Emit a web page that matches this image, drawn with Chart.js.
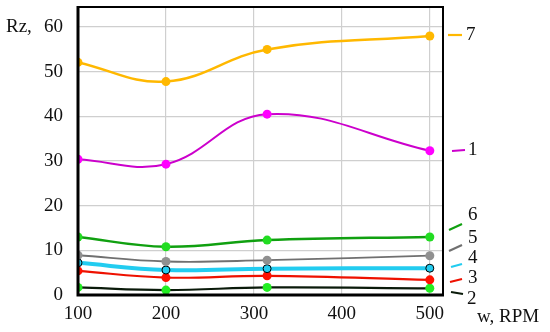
<!DOCTYPE html>
<html><head><meta charset="utf-8">
<script src="https://cdn.jsdelivr.net/npm/chart.js@4/dist/chart.umd.min.js"></script>
<style>html,body{margin:0;padding:0;background:#fff}#wrap{width:550px;height:332px}</style>
</head><body><div id="wrap"><canvas id="c" width="550" height="332"></canvas></div>
<script>
const speeds = [100, 200, 315, 500];
const s7 = [52.1, 47.8, 55.0, 58.0];
const s1 = [30.4, 29.3, 40.5, 32.3];
const s6 = [13.0, 10.8, 12.3, 13.0];
const s5 = [8.9, 7.5, 7.8, 8.8];
const s4 = [7.2, 5.6, 5.9, 6.0];
const s3 = [5.4, 3.9, 4.3, 3.4];
const s2 = [1.7, 1.1, 1.7, 1.5];
const seriesNames = ['7', '1', '6', '5', '4', '3', '2'];
const xTicks = [100, 200, 300, 400, 500];
const yTicks = [0, 10, 20, 30, 40, 50, 60];

const pts = a => a.map((v, i) => ({x: speeds[i], y: v}));
function ds(data, line, pt, w, extra) {
  return Object.assign({data: pts(data), borderColor: line, backgroundColor: pt, pointBackgroundColor: pt,
    pointBorderColor: pt, pointRadius: 4.5, pointBorderWidth: 0, borderWidth: w, tension: 0.4, fill: false}, extra || {});
}
const datasets = [
  ds(s7, '#FFB800', '#FFB800', 2.5),
  ds(s1, '#CC00CC', '#FF00FF', 2),
  ds(s6, '#10A010', '#22DD22', 2.5),
  ds(s5, '#707070', '#909090', 1.8),
  ds(s4, '#22CCF0', '#22CCF0', 4, {pointRadius: 4, pointBorderColor: '#000', pointBorderWidth: 1}),
  ds(s4, '#000000', 'rgba(0,0,0,0)', 1, {borderDash: [4, 3], pointRadius: 0}),
  ds(s3, '#EE1100', '#FF1100', 2.2),
  ds(s2, '#0a1a0a', '#22EE22', 2.2),
];

const labelPos = [
  {t: '7', c: '#FFB800', x1: 448, y1: 35, x2: 462, y2: 35, tx: 466, ty: 35},
  {t: '1', c: '#CC00CC', x1: 452, y1: 151, x2: 465, y2: 150, tx: 468, ty: 150},
  {t: '6', c: '#10A010', x1: 449, y1: 230, x2: 462, y2: 224, tx: 468, ty: 215},
  {t: '5', c: '#707070', x1: 449, y1: 251, x2: 462, y2: 245, tx: 468, ty: 238},
  {t: '4', c: '#22CCF0', x1: 451, y1: 267, x2: 462, y2: 264, tx: 468, ty: 258},
  {t: '3', c: '#EE1100', x1: 450, y1: 282, x2: 462, y2: 279, tx: 468, ty: 278},
  {t: '2', c: '#0a1a0a', x1: 451, y1: 292, x2: 463, y2: 294, tx: 467, ty: 299},
];

const deco = {
  id: 'deco',
  afterDatasetsDraw(chart) {
    const {ctx, chartArea: a} = chart;
    ctx.save();
    ctx.strokeStyle = '#000';
    ctx.lineWidth = 2;
    ctx.strokeRect(a.left, a.top, a.right - a.left, a.bottom - a.top);
    ctx.lineWidth = 3;
    ctx.beginPath();
    ctx.moveTo(a.left, a.top - 1); ctx.lineTo(a.left, a.bottom); ctx.lineTo(a.right + 1, a.bottom);
    ctx.stroke();
    ctx.font = '19px "Liberation Serif", serif';
    ctx.fillStyle = '#111';
    ctx.textBaseline = 'middle';
    ctx.textAlign = 'left';
    ctx.fillText('Rz,', 6, 27);
    ctx.fillText('w, RPM', 477, 317);
    labelPos.forEach(l => {
      ctx.strokeStyle = l.c; ctx.lineWidth = 2.2;
      ctx.beginPath(); ctx.moveTo(l.x1, l.y1); ctx.lineTo(l.x2, l.y2); ctx.stroke();
      ctx.fillStyle = '#111';
      ctx.fillText(l.t, l.tx, l.ty);
    });
    ctx.restore();
  }
};

new Chart(document.getElementById('c'), {
  type: 'line',
  data: {datasets},
  options: {
    responsive: false, animation: false, devicePixelRatio: 1,
    layout: {padding: {left: 0, right: 107, top: 7, bottom: 0}},
    plugins: {legend: {display: false}, tooltip: {enabled: false}},
    scales: {
      x: {type: 'linear', min: 100, max: 515,
        afterBuildTicks: ax => { ax.ticks = xTicks.map(v => ({value: v})); },
        afterFit: ax => { ax.height = 37; ax.paddingLeft = 0; ax.paddingRight = 0; },
        grid: {color: '#cfcfcf', lineWidth: 1.2, drawTicks: false},
        border: {display: false},
        ticks: {padding: 8, color: '#111', font: {family: '"Liberation Serif", serif', size: 19}, maxRotation: 0}
      },
      y: {type: 'linear', min: 0, max: 64.5,
        afterBuildTicks: ax => { ax.ticks = yTicks.map(v => ({value: v})); },
        afterFit: ax => { ax.width = 78; ax.paddingTop = 0; ax.paddingBottom = 0; },
        grid: {color: '#cfcfcf', lineWidth: 1.2, drawTicks: false},
        border: {display: false},
        ticks: {padding: 15, color: '#111', font: {family: '"Liberation Serif", serif', size: 19}}
      }
    }
  },
  plugins: [deco]
});
</script></body></html>
